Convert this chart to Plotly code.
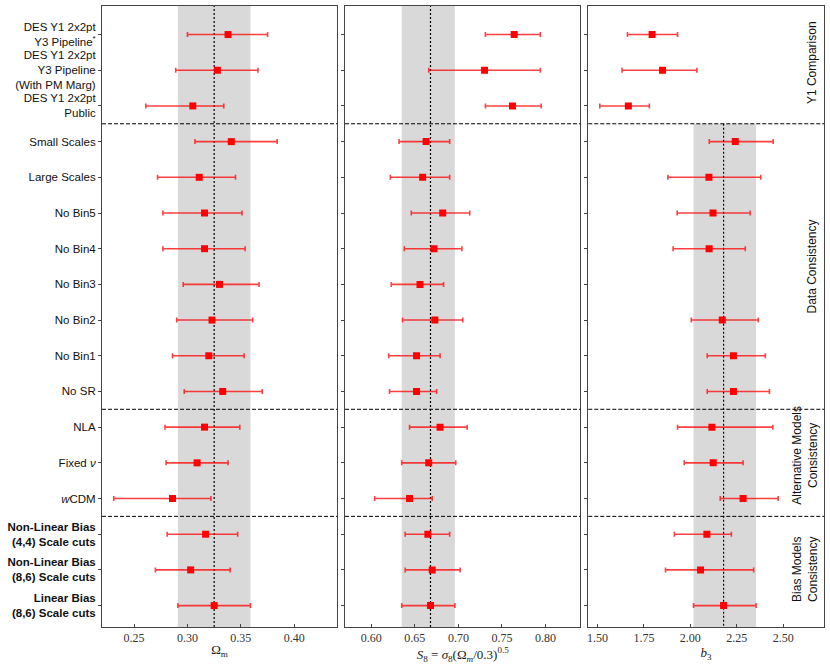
import plotly.graph_objects as go

# rows, top to bottom
labels = [
    "DES Y1 2x2pt<br>Y3 Pipeline<sup>*</sup>",
    "DES Y1 2x2pt<br>Y3 Pipeline<br>(With PM Marg)",
    "DES Y1 2x2pt<br>Public",
    "Small Scales",
    "Large Scales",
    "No Bin5",
    "No Bin4",
    "No Bin3",
    "No Bin2",
    "No Bin1",
    "No SR",
    "NLA",
    "Fixed <i>ν</i>",
    "<i>w</i>CDM",
    "<b>Non-Linear Bias</b><br><b>(4,4) Scale cuts</b>",
    "<b>Non-Linear Bias</b><br><b>(8,6) Scale cuts</b>",
    "<b>Linear Bias</b><br><b>(8,6) Scale cuts</b>",
]

om_mid = [0.338, 0.328, 0.305, 0.341, 0.311, 0.316, 0.316, 0.330, 0.323, 0.320, 0.333, 0.316, 0.309, 0.286, 0.317, 0.303, 0.325]
om_lo = [0.300, 0.289, 0.261, 0.307, 0.272, 0.277, 0.277, 0.296, 0.290, 0.286, 0.297, 0.279, 0.280, 0.231, 0.281, 0.270, 0.291]
om_hi = [0.375, 0.366, 0.334, 0.384, 0.345, 0.351, 0.354, 0.367, 0.361, 0.353, 0.370, 0.349, 0.338, 0.322, 0.347, 0.340, 0.359]

s8_mid = [0.764, 0.730, 0.762, 0.663, 0.659, 0.682, 0.672, 0.656, 0.673, 0.652, 0.652, 0.679, 0.666, 0.644, 0.665, 0.670, 0.668]
s8_lo = [0.731, 0.666, 0.731, 0.632, 0.622, 0.646, 0.638, 0.623, 0.636, 0.620, 0.621, 0.644, 0.635, 0.604, 0.639, 0.639, 0.635]
s8_hi = [0.794, 0.794, 0.795, 0.690, 0.690, 0.713, 0.704, 0.683, 0.705, 0.679, 0.675, 0.710, 0.697, 0.670, 0.690, 0.702, 0.696]

# no b3 when bin 3 is dropped
b3_mid = [1.794, 1.850, 1.666, 2.242, 2.100, 2.122, 2.101, None, 2.172, 2.232, 2.232, 2.116, 2.123, 2.284, 2.089, 2.055, 2.179]
b3_lo = [1.661, 1.632, 1.512, 2.102, 1.879, 1.929, 1.907, None, 2.005, 2.091, 2.091, 1.931, 1.967, 2.161, 1.914, 1.866, 2.017]
b3_hi = [1.931, 2.035, 1.779, 2.446, 2.379, 2.322, 2.296, None, 2.366, 2.404, 2.426, 2.444, 2.284, 2.473, 2.221, 2.341, 2.354]

om_ticks = [0.25, 0.30, 0.35, 0.40]
s8_ticks = [0.60, 0.65, 0.70, 0.75, 0.80]
b3_ticks = [1.50, 1.75, 2.00, 2.25, 2.50]

section_breaks = [2.5, 10.5, 13.5]
groups = ["Y1 Comparison", "Data Consistency", "Alternative Models<br>Consistency", "Bias Models<br>Consistency"]
group_rows = [0.8, 6.5, 11.8, 15.0]

ref_row = 16  # Linear Bias (8,6) is the fiducial
band_start = [None, None, 2.5]  # b3 band only below the Y1 block

panels = [
    (om_mid, om_lo, om_hi, om_ticks, [0.22, 0.44], "Ω<sub>m</sub>"),
    (s8_mid, s8_lo, s8_hi, s8_ticks, [0.57, 0.84],
     "<i>S</i><sub>8</sub> = <i>σ</i><sub>8</sub>(Ω<sub><i>m</i></sub>/0.3)<sup>0.5</sup>"),
    (b3_mid, b3_lo, b3_hi, b3_ticks, [1.45, 2.72], "<i>b</i><sub>3</sub>"),
]
domains = [[0.0, 0.3255], [0.3366, 0.6627], [0.6735, 1.0]]
yrange = [16.6, -0.8]
rows = list(range(len(labels)))

fig = go.Figure()
shapes = []
serif = "Liberation Serif"
sans = "Liberation Sans"

for i, (mid, lo, hi, ticks, xr, title) in enumerate(panels):
    n = "" if i == 0 else str(i + 1)
    xs, ys, ep, em = [], [], [], []
    for r, m, a, b in zip(rows, mid, lo, hi):
        if m is None:
            continue
        xs.append(m)
        ys.append(r)
        ep.append(b - m)
        em.append(m - a)
    fig.add_trace(go.Scatter(
        x=xs, y=ys, mode="markers", xaxis="x" + n, yaxis="y" + n,
        marker=dict(symbol="square", size=7, color="red"),
        error_x=dict(type="data", array=ep, arrayminus=em, color="rgba(255,0,0,0.75)",
                     thickness=1.6, width=2.5),
        showlegend=False, hoverinfo="skip",
    ))

    # fiducial band and line
    if band_start[i] is None:
        y0, y1, yref = 0, 1, "y%s domain" % n
    else:
        y0, y1, yref = band_start[i], yrange[0], "y" + n
    shapes.append(dict(type="rect", xref="x" + n, yref=yref, x0=lo[ref_row], x1=hi[ref_row],
                       y0=y0, y1=y1, fillcolor="#d9d9d9", line=dict(width=0), layer="below"))
    shapes.append(dict(type="line", xref="x" + n, yref=yref, x0=mid[ref_row], x1=mid[ref_row],
                       y0=y0, y1=y1, line=dict(color="black", width=1.2, dash="2px,2px"), layer="below"))
    for yb in section_breaks:
        shapes.append(dict(type="line", xref="x%s domain" % n, yref="y" + n, x0=0, x1=1,
                           y0=yb, y1=yb, line=dict(color="black", width=1, dash="4px,2px")))

    fig.update_layout(**{
        "xaxis" + n: dict(
            domain=domains[i], anchor="y" + n, range=xr, tickvals=ticks, tickformat=".2f",
            ticks="inside", ticklen=3, tickcolor="#444", showgrid=False, zeroline=False,
            showline=True, mirror=True, linecolor="#444", linewidth=1,
            tickfont=dict(family=serif, size=12, color="#333"), automargin=False,
            title=dict(text=title, font=dict(family=serif, size=13, color="#222"), standoff=0),
        ),
        "yaxis" + n: dict(
            domain=[0, 1], anchor="x" + n, range=yrange, tickvals=rows,
            ticktext=labels if i == 0 else None, showticklabels=(i == 0),
            ticks="outside", ticklen=3, tickcolor="#444", showgrid=False, zeroline=False,
            showline=True, mirror=True, linecolor="#444", linewidth=1, automargin=False,
            tickfont=dict(family=sans, size=11.5, color="#111"),
        ),
    })

annotations = []
for g, yr in zip(groups, group_rows):
    two = "<br>" in g
    annotations.append(dict(
        text=g, xref="paper", yref="y3", x=(805 - 102) / 722 if two else (812 - 102) / 722,
        y=yr, textangle=-90, showarrow=False, xanchor="center", yanchor="middle",
        font=dict(family=sans, size=12, color="#111"),
    ))

fig.update_layout(
    width=830, height=664,
    margin=dict(l=102, r=6, t=6, b=37),
    plot_bgcolor="white", paper_bgcolor="white",
    shapes=shapes, annotations=annotations,
)

fig.write_html("out.html", config={"displayModeBar": False},
               post_script="document.body.style.margin='0';")
